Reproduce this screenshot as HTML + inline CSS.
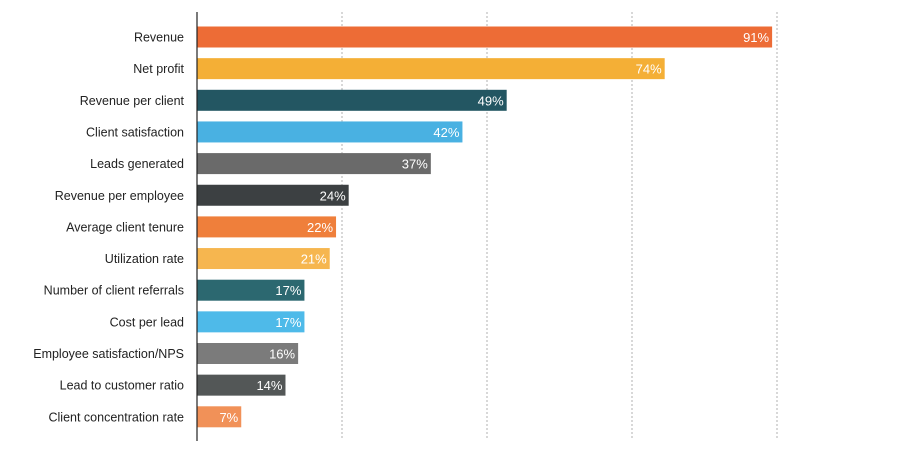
<!DOCTYPE html>
<html><head><meta charset="utf-8"><style>
body{margin:0;background:#fff;width:900px;height:454px;overflow:hidden;font-family:"Liberation Sans",sans-serif}
</style></head><body>
<svg id="chart" width="900" height="454" xmlns="http://www.w3.org/2000/svg"></svg>
<script>
const categories=["Revenue","Net profit","Revenue per client","Client satisfaction","Leads generated","Revenue per employee","Average client tenure","Utilization rate","Number of client referrals","Cost per lead","Employee satisfaction/NPS","Lead to customer ratio","Client concentration rate"];
const values=[91,74,49,42,37,24,22,21,17,17,16,14,7];
const colors=["#ED6C36","#F4AF36","#235662","#49B1E2","#6A6A6A","#3C4042","#EF7F3B","#F6B64F","#2C6870","#4EBAE9","#7B7B7B","#535757","#F19158"];
const svg=document.getElementById('chart');
const NS="http://www.w3.org/2000/svg";
const x0=197, pxPer=6.32;
function xs(v){return x0+v*pxPer;}
function ys(i){return 37+i*31.65;}
function mk(t,a){const e=document.createElementNS(NS,t);for(const k in a)e.setAttribute(k,a[k]);svg.appendChild(e);return e;}
for(let g=1;g<=4;g++){
 const gl=mk('line',{x1:x0+g*145,x2:x0+g*145,y1:12,y2:440,stroke:'#b0b0b0','stroke-dasharray':'2,2','stroke-width':1});
 
 
}
categories.forEach((c,i)=>{
 const y=ys(i);
 const r=mk('rect',{x:x0,y:y-10.5,width:xs(values[i])-x0,height:21,fill:colors[i]});
 
 
 const l=mk('text',{x:184,y:y+4.5,'text-anchor':'end','font-size':12.5,fill:'#222'});
 l.textContent=c;
 
 
 const v=mk('text',{x:xs(values[i])-3,y:y+5,'text-anchor':'end','font-size':13,fill:'#fff'});
 v.textContent=values[i]+'%';
 
 
});
const ax=mk('line',{x1:x0,x2:x0,y1:12,y2:441,stroke:'#222','stroke-width':1.2});


</script>
</body></html>
